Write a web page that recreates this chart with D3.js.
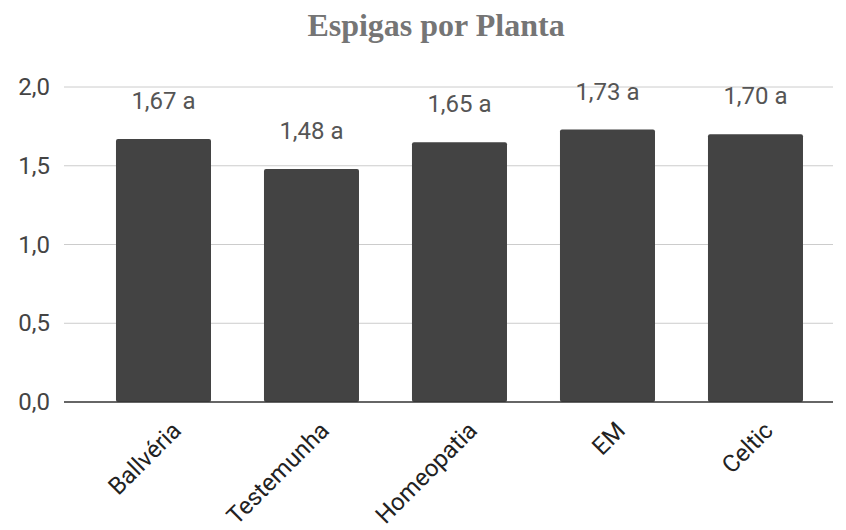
<!DOCTYPE html>
<html>
<head>
<meta charset="utf-8">
<script src="https://cdn.jsdelivr.net/npm/d3@7"></script>
<style>
  body { margin: 0; background: #fff; }
  text { font-family: Roboto, "Liberation Sans", sans-serif; }
</style>
</head>
<body>
<div id="chart"></div>
<script>
var categories = ["Ballvéria", "Testemunha", "Homeopatia", "EM", "Celtic"];
var values = [1.67, 1.48, 1.65, 1.73, 1.70];
var letters = ["a", "a", "a", "a", "a"];
var yTicks = [0, 0.5, 1.0, 1.5, 2.0];

var W = 846, H = 530;
var plotLeft = 64, plotRight = 833, plotTop = 87, plotBottom = 402;

var fmt = function(v, n) { return v.toFixed(n).replace(".", ","); };

var svg = d3.select("#chart").append("svg")
  .attr("width", W)
  .attr("height", H);

var x = d3.scaleBand()
  .domain(categories)
  .range([plotLeft, plotRight])
  .paddingInner(0.358)
  .paddingOuter(0.277)
  .align(0.634);

var y = d3.scaleLinear().domain([0, 2]).range([plotBottom, plotTop]);

// title
svg.append("text")
  .attr("x", 436)
  .attr("y", 36)
  .attr("text-anchor", "middle")
  .style("font-family", "'Liberation Serif', 'DejaVu Serif', serif")
  .style("font-weight", "bold")
  .style("font-size", "32px")
  .attr("fill", "#757575")
  .text("Espigas por Planta");

// grid
svg.append("g")
  .selectAll("line")
  .data(yTicks.filter(function(d) { return d > 0; }))
  .join("line")
  .attr("x1", plotLeft).attr("x2", plotRight)
  .attr("y1", function(d) { return y(d); })
  .attr("y2", function(d) { return y(d); })
  .attr("stroke", "#cccccc")
  .attr("stroke-width", 1);

// y tick labels
svg.append("g")
  .selectAll("text")
  .data(yTicks)
  .join("text")
  .attr("x", 50)
  .attr("y", function(d) { return y(d) + 8; })
  .attr("text-anchor", "end")
  .style("font-size", "24px")
  .attr("fill", "#444")
  .text(function(d) { return fmt(d, 1); });

// bars
svg.append("g")
  .selectAll("rect")
  .data(values)
  .join("rect")
  .attr("x", function(d, i) { return x(categories[i]); })
  .attr("y", function(d) { return y(d); })
  .attr("width", x.bandwidth())
  .attr("height", function(d) { return plotBottom - y(d); })
  .attr("rx", 2)
  .attr("fill", "#434343");

// baseline
svg.append("line")
  .attr("x1", plotLeft).attr("x2", plotRight)
  .attr("y1", plotBottom).attr("y2", plotBottom)
  .attr("stroke", "#333")
  .attr("stroke-width", 1.5);

// value labels
svg.append("g")
  .selectAll("text")
  .data(values)
  .join("text")
  .attr("x", function(d, i) { return x(categories[i]) + x.bandwidth() / 2; })
  .attr("y", function(d) { return y(d) - 30; })
  .attr("text-anchor", "middle")
  .style("font-size", "24px")
  .attr("fill", "#555")
  .text(function(d, i) { return fmt(d, 2) + " " + letters[i]; });

// x labels
svg.append("g")
  .selectAll("text")
  .data(categories)
  .join("text")
  .attr("transform", function(d) {
    return "translate(" + (x(d) + x.bandwidth() / 2 + 19) + "," + (plotBottom + 30) + ") rotate(-45)";
  })
  .attr("text-anchor", "end")
  .style("font-size", "24px")
  .attr("fill", "#222")
  .text(function(d) { return d; });
</script>
</body>
</html>
